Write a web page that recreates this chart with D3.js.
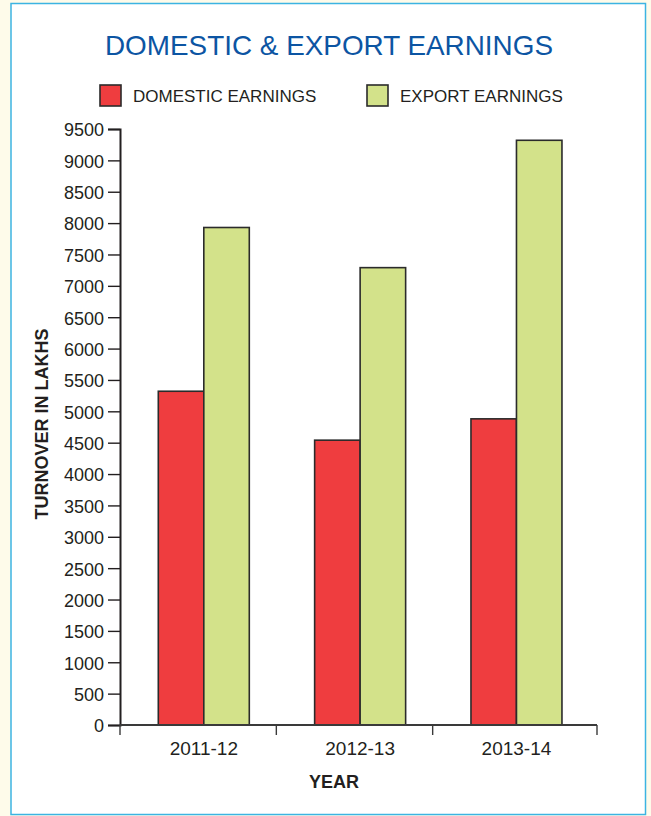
<!DOCTYPE html>
<html lang="en">
<head>
<meta charset="utf-8"/>
<style>
  body { margin: 0; background: #fefbea; }
  svg { display: block; }
  text { font-family: "Liberation Sans", Arial, sans-serif; fill: #231f20; }
  .tick text { font-size: 18px; }
  #title { font-size: 28px; fill: #0c55a3; }
  .legend text { font-size: 17px; }
  .axis-title { font-size: 18px; font-weight: bold; }
</style>
</head>
<body>
<svg id="chart" width="651" height="816"></svg>

<script src="https://d3js.org/d3.v7.min.js"></script>
<script>
  // data
  let years = ["2011-12", "2012-13", "2013-14"]
  let series = ["DOMESTIC EARNINGS", "EXPORT EARNINGS"]
  let domestic = [5320, 4540, 4880]
  let exportEarn = [7930, 7290, 9320]
  let yTicks = d3.range(0, 9501, 500)
  let colors = ["#ef3d3f", "#d3e28a"]

  let svg = d3.select("#chart")

  // white panel with the light blue frame
  svg.append("rect")
    .attr("x", 11).attr("y", 3.5)
    .attr("width", 634.5).attr("height", 811)
    .attr("fill", "#ffffff")
    .attr("stroke", "#3cb4e2")
    .attr("stroke-width", 1.5)

  svg.append("text")
    .attr("id", "title")
    .attr("x", 329).attr("y", 55)
    .attr("text-anchor", "middle")
    .attr("textLength", 448)
    .attr("lengthAdjust", "spacingAndGlyphs")
    .text("DOMESTIC & EXPORT EARNINGS")

  // scales
  let y = d3.scaleLinear().domain([0, 9500]).range([725, 129])
  let x0 = d3.scaleBand().domain(years).range([120, 589]) // group bands
  let x1 = d3.scaleBand().domain(series).range([38.3, 129.3]) // bars inside a group

  let rows = years.map((yr, i) => ({ year: yr, values: [domestic[i], exportEarn[i]] }))

  // bars
  let groups = svg.selectAll(".group")
    .data(rows)
    .enter()
    .append("g")
    .attr("class", "group")
    .attr("transform", d => "translate(" + x0(d.year) + ",0)")

  groups.selectAll("rect")
    .data(d => d.values.map((v, j) => ({ key: series[j], value: v, j: j })))
    .enter()
    .append("rect")
    .attr("x", d => x1(d.key))
    .attr("y", d => y(d.value))
    .attr("width", x1.bandwidth())
    .attr("height", d => y(0) - y(d.value))
    .attr("fill", d => colors[d.j])
    .attr("stroke", "#2b2b2b")
    .attr("stroke-width", 1.6)

  // y axis
  let yAxis = svg.append("g")
    .attr("transform", "translate(120,0)")
    .call(d3.axisLeft(y).tickValues(yTicks).tickSize(12).tickPadding(4).tickFormat(d3.format("d")))
  yAxis.select(".domain").attr("stroke", "#231f20").attr("stroke-width", 2)
  yAxis.selectAll(".tick line").attr("stroke", "#231f20").attr("stroke-width", 1.4)
  yAxis.selectAll(".tick text").attr("fill", "#231f20").attr("dy", "0.38em")

  // x axis: line from the y axis to the end, ticks on the group boundaries
  let xAxis = svg.append("g")
  xAxis.append("line")
    .attr("x1", 120).attr("x2", 597)
    .attr("y1", y(0)).attr("y2", y(0))
    .attr("stroke", "#3a3a3a").attr("stroke-width", 2)
  let edges = years.map(d => x0(d)).concat([597])
  xAxis.selectAll(".xt")
    .data(edges)
    .enter()
    .append("line")
    .attr("class", "xt")
    .attr("x1", d => d).attr("x2", d => d)
    .attr("y1", y(0)).attr("y2", y(0) + 10)
    .attr("stroke", "#3a3a3a").attr("stroke-width", 1.4)
  xAxis.selectAll(".xl")
    .data(years)
    .enter()
    .append("text")
    .attr("class", "xl")
    .attr("x", d => x0(d) + (x1.range()[0] + x1.range()[1]) / 2)
    .attr("y", 755)
    .attr("text-anchor", "middle")
    .style("font-size", "19px")
    .text(d => d)

  // axis titles
  svg.append("text")
    .attr("class", "axis-title")
    .attr("x", 334).attr("y", 788)
    .attr("text-anchor", "middle")
    .text("YEAR")

  svg.append("text")
    .attr("class", "axis-title")
    .attr("transform", "translate(48,424) rotate(-90)")
    .attr("text-anchor", "middle")
    .text("TURNOVER IN LAKHS")

  // legend
  let legendX = [100, 367]
  let legend = svg.selectAll(".legend")
    .data(series)
    .enter()
    .append("g")
    .attr("class", "legend")
    .attr("transform", (d, i) => "translate(" + legendX[i] + ",85)")
  legend.append("rect")
    .attr("width", 21).attr("height", 21)
    .attr("fill", (d, i) => colors[i])
    .attr("stroke", "#2b2b2b").attr("stroke-width", 1.6)
  legend.append("text")
    .attr("x", 33).attr("y", 17)
    .text(d => d)
</script>
</body>
</html>
